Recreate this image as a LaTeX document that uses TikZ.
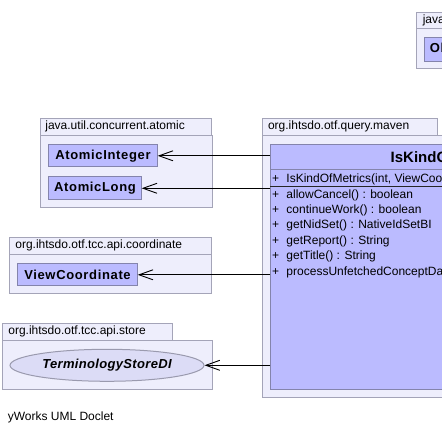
\documentclass[tikz,border=0pt]{standalone}
\usepackage{fontspec}
\setmainfont{Liberation Sans}
\newfontfamily\clsfont[LetterSpace=5]{Liberation Sans}
\newfontfamily\iffont[LetterSpace=2.5]{Liberation Sans}
\usetikzlibrary{arrows.meta,shapes.geometric}
\definecolor{pkgfill}{HTML}{EEEEFC}
\definecolor{pkgdraw}{HTML}{A4A4B8}
\definecolor{clsfill}{HTML}{BBBBFF}
\definecolor{clsdraw}{HTML}{8484AC}
\definecolor{iffill}{HTML}{DCDCF6}
\definecolor{ifdraw}{HTML}{9A9AAE}
\begin{document}
\begin{tikzpicture}[x=1pt,y=-1pt,
  pkg/.style={draw=pkgdraw,fill=pkgfill,line width=1pt,rectangle,inner sep=0pt,anchor=north west},
  pkglabel/.style={anchor=west,inner sep=0pt,font=\fontsize{12}{14}\selectfont},
  cls/.style={draw=clsdraw,fill=clsfill,line width=1pt,rectangle,inner sep=0pt,anchor=north west,font=\clsfont\bfseries\fontsize{13}{15}\selectfont},
  iface/.style={ellipse,draw=ifdraw,fill=iffill,line width=1pt,inner sep=0pt,font=\iffont\bfseries\itshape\fontsize{13}{15}\selectfont},
  member/.style={anchor=west,inner sep=0pt,text height=8.6pt,text depth=2.5pt,font=\fontsize{12}{14}\selectfont},
  dep/.style={draw=black,line width=0.9pt,-{Straight Barb[length=14pt,width=10pt,line width=0.9pt]}}
]
\useasboundingbox (0,0) rectangle (442,435);
\clip (0,0) rectangle (442,435);

% java.lang package
\node[pkg,minimum width=90pt,minimum height=16.3pt] (jltab) at (416.3,12) {};
\node[pkg,minimum width=100pt,minimum height=40pt] (jlbody) at (416.3,28.3) {};
\node[pkglabel] (jllabel) at (422.6,20.2) {java.lang};
\node[cls,minimum width=54pt,minimum height=24pt] (obj) at (424.3,36.7) {Object};

% java.util.concurrent.atomic package
\node[pkg,minimum width=170.4pt,minimum height=17pt] (attab) at (40.3,118) {};
\node[pkg,minimum width=172pt,minimum height=72.3pt] (atbody) at (40.3,135) {};
\node[pkglabel] (atlabel) at (45.2,126.5) {java.util.concurrent.atomic};
\node[cls,minimum width=108.4pt,minimum height=22pt] (ai) at (48.3,144.3) {AtomicInteger};
\node[cls,minimum width=92.4pt,minimum height=23pt] (al) at (48.3,176.3) {AtomicLong};

% coordinate package
\node[pkg,minimum width=202pt,minimum height=17pt] (cotab) at (9.3,237.3) {};
\node[pkg,minimum width=202pt,minimum height=39pt] (cobody) at (9.3,254.3) {};
\node[pkglabel] (colabel) at (15.2,245.8) {org.ihtsdo.otf.tcc.api.coordinate};
\node[cls,minimum width=119.4pt,minimum height=22pt] (vc) at (17.3,263.3) {ViewCoordinate};

% store package
\node[pkg,minimum width=169.4pt,minimum height=16.7pt] (sttab) at (2.3,323.3) {};
\node[pkg,minimum width=210pt,minimum height=49.3pt] (stbody) at (2.3,340) {};
\node[pkglabel] (stlabel) at (8.2,331.7) {org.ihtsdo.otf.tcc.api.store};
\node[iface,minimum width=194pt,minimum height=32pt] (ts) at (107,365.3) {TerminologyStoreDI};

% maven package
\node[pkg,minimum width=174.4pt,minimum height=17pt] (mvtab) at (262.3,118) {};
\node[pkg,minimum width=400pt,minimum height=262.3pt] (mvbody) at (262.3,135) {};
\node[pkglabel] (mvlabel) at (267.8,126.5) {org.ihtsdo.otf.query.maven};
\node[cls,minimum width=356.7pt,minimum height=245pt] (ikm) at (270.3,144.3) {};
\node[anchor=west,inner sep=0pt,font=\bfseries\fontsize{15}{17}\selectfont] (ikmtitle) at (390.5,157) {IsKindOfMetrics};
\draw[clsdraw,line width=1pt] (270.3,169.7) -- (627,169.7);
\draw[black!85,line width=1pt] (270.3,186.8) -- (627,186.8);

\node[member] (m0) at (272,179.3) {\makebox[14.3pt][l]{+}IsKindOfMetrics(int, ViewCoordinate)};
\node[member] (m1) at (272,195.0) {\makebox[14.3pt][l]{+}allowCancel() : boolean};
\node[member] (m2) at (272,210.4) {\makebox[14.3pt][l]{+}continueWork() : boolean};
\node[member] (m3) at (272,225.8) {\makebox[14.3pt][l]{+}getNidSet() : NativeIdSetBI};
\node[member] (m4) at (272,241.2) {\makebox[14.3pt][l]{+}getReport() : String};
\node[member] (m5) at (272,256.6) {\makebox[14.3pt][l]{+}getTitle() : String};
\node[member] (m6) at (272,272.0) {\makebox[14.3pt][l]{+}processUnfetchedConceptData(int, ConceptFetcherBI) : void};

% dependencies
\draw[dep] (ikm.west |- ai.east) -- (ai.east);
\draw[dep] (ikm.west |- al.east) -- (al.east);
\draw[dep] (ikm.west |- vc.east) -- (vc.east);
\draw[dep] (ikm.west |- ts.east) -- (ts.east);

\node[pkglabel] (credit) at (7.6,417.7) {yWorks UML Doclet};
\end{tikzpicture}
\end{document}
